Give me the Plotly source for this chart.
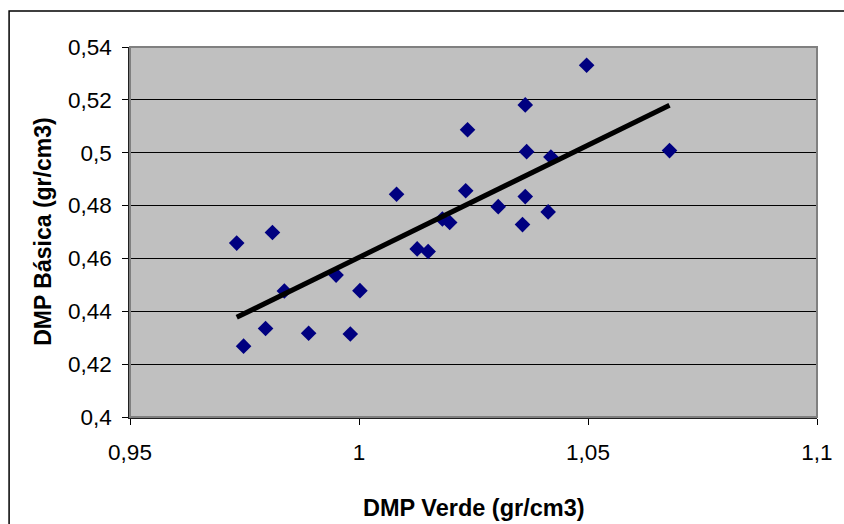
import numpy as np
import plotly.graph_objects as go

# Densidad (DMP) en verde vs. básica, gr/cm3
dmp_verde = [0.9733, 0.9811, 0.9748, 0.9796, 0.9837, 0.9890, 0.9950, 0.9981, 1.0002,
             1.0082, 1.0127, 1.0151, 1.0182, 1.0198, 1.0233, 1.0237, 1.0304, 1.0357,
             1.0363, 1.0363, 1.0366, 1.0413, 1.0419, 1.0497, 1.0678]
dmp_basica = [0.4658, 0.4698, 0.4268, 0.4335, 0.4477, 0.4317, 0.4537, 0.4314, 0.4478,
              0.4843, 0.4636, 0.4626, 0.4749, 0.4736, 0.4856, 0.5087, 0.4796, 0.4728,
              0.4834, 0.5181, 0.5004, 0.4776, 0.4984, 0.5331, 0.5008]

x_ticks = [0.95, 1.0, 1.05, 1.1]
y_ticks = [0.40, 0.42, 0.44, 0.46, 0.48, 0.50, 0.52, 0.54]

x_title = "DMP Verde (gr/cm3)"
y_title = "DMP Básica (gr/cm3)"

# Linear trendline over the range of the data
slope, intercept = np.polyfit(dmp_verde, dmp_basica, 1)
x_fit = np.array([min(dmp_verde), max(dmp_verde)])
y_fit = slope * x_fit + intercept

fig = go.Figure()
fig.add_trace(go.Scatter(
    x=dmp_verde, y=dmp_basica, mode="markers",
    marker=dict(symbol="diamond", size=12, color="#000080", line=dict(width=0)),
    showlegend=False, hoverinfo="x+y"))
fig.add_trace(go.Scatter(
    x=x_fit, y=y_fit, mode="lines",
    line=dict(color="black", width=5),
    showlegend=False, hoverinfo="skip"))

font = "Liberation Sans, Arial, sans-serif"

fig.update_layout(
    width=844, height=524,
    margin=dict(l=130, r=27, t=47, b=107, autoexpand=False),
    paper_bgcolor="white",
    plot_bgcolor="#C0C0C0",
    separators=",.",
    font=dict(family=font, size=22.5, color="black"),
    xaxis=dict(
        range=[0.95, 1.1], tickvals=x_ticks, showgrid=False, zeroline=False,
        showline=True, linecolor="#202020", linewidth=1.5, automargin=False,
        ticks="outside", ticklen=6, tickcolor="black", tickwidth=1,
        ticklabelstandoff=8,
    ),
    yaxis=dict(
        range=[0.4, 0.54], tickvals=y_ticks, showgrid=True, gridcolor="black", gridwidth=1,
        zeroline=False, showline=True, linecolor="#202020", linewidth=1.5, automargin=False,
        ticks="outside", ticklen=6, tickcolor="black", tickwidth=1,
        ticklabelstandoff=6,
    ),
    annotations=[
        dict(text=f"<b>{x_title}</b>", xref="paper", yref="paper", x=0.5, y=-0.246,
             xanchor="center", yanchor="middle", showarrow=False, font=dict(size=23.5)),
        dict(text=f"<b>{y_title}</b>", xref="paper", yref="paper", x=-0.127, y=0.5,
             xanchor="center", yanchor="middle", showarrow=False, textangle=-90,
             font=dict(size=23)),
    ],
    shapes=[
        # gray border on the plot area
        dict(type="rect", xref="paper", yref="paper", x0=0, x1=1, y0=0, y1=1,
             line=dict(color="#808080", width=2), fillcolor="rgba(0,0,0,0)", layer="above"),
        # chart frame
        dict(type="rect", xref="paper", yref="paper", x0=-0.176, x1=1.2, y0=-0.5, y1=1.097,
             line=dict(color="black", width=1.5), fillcolor="rgba(0,0,0,0)", layer="above"),
    ],
)

fig.write_html("out.html")
